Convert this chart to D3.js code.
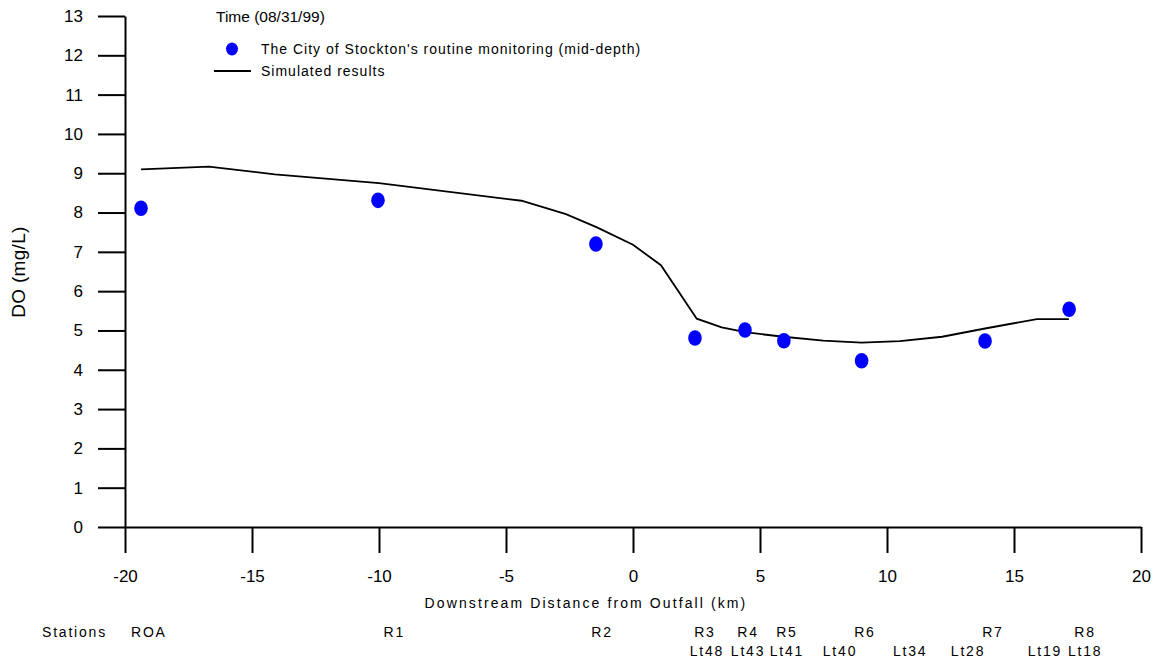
<!DOCTYPE html>
<html>
<head>
<meta charset="utf-8">
<script src="https://cdn.jsdelivr.net/npm/d3@7"></script>
<style>
  body { margin: 0; background: #fff; }
  svg { display: block; font-family: "Liberation Sans", Arial, sans-serif; }
</style>
</head>
<body>
<svg id="chart" width="1159" height="661"></svg>
<script>
// 观测数据（Stockton 例行监测，mid-depth）
const obsKm = [-19.37, -10.04, -1.46, 2.44, 4.41, 5.94, 9.0, 13.86, 17.17];
const obsDO = [8.11, 8.31, 7.2, 4.81, 5.01, 4.74, 4.23, 4.73, 5.54];

// 模拟结果
const simKm = [-19.37, -16.7, -14.1, -10.0, -4.39, -2.64, -1.44, 0.0, 1.1, 2.51, 3.49, 4.48, 5.92, 7.49, 9.0, 10.51, 12.17, 13.86, 15.9, 17.16];
const simDO = [9.1, 9.17, 8.97, 8.75, 8.3, 7.96, 7.63, 7.18, 6.66, 5.3, 5.08, 4.95, 4.84, 4.74, 4.69, 4.73, 4.84, 5.05, 5.29, 5.29];

// 坐标轴刻度
const xTicks = [-20, -15, -10, -5, 0, 5, 10, 15, 20];
const yTicks = [0, 1, 2, 3, 4, 5, 6, 7, 8, 9, 10, 11, 12, 13];

// 站点标签（第一行 R 站，第二行 Lt 站）
const rStations = ["ROA", "R1", "R2", "R3", "R4", "R5", "R6", "R7", "R8"];
const rStationKm = [-19.06, -9.4, -1.22, 2.83, 4.53, 6.06, 9.13, 14.17, 17.8];
const ltStations = ["Lt48", "Lt43", "Lt41", "Lt40", "Lt34", "Lt28", "Lt19", "Lt18"];
const ltStationKm = [2.91, 4.53, 6.06, 8.15, 10.91, 13.19, 16.22, 17.8];

const svg = d3.select("#chart");

const x = d3.scaleLinear().domain([-20, 20]).range([125, 1141]);
const y = d3.scaleLinear().domain([0, 13]).range([527, 16]);

// 刻度标签用普通连字符作负号
const plainFormat = d => String(d);

// Y 轴
const yAxis = svg.append("g")
    .attr("transform", "translate(125,0)")
    .call(d3.axisLeft(y).tickValues(yTicks).tickFormat(plainFormat)
        .tickSize(27).tickSizeOuter(0).tickPadding(15));

// X 轴
const xAxis = svg.append("g")
    .attr("transform", "translate(0,527)")
    .call(d3.axisBottom(x).tickValues(xTicks).tickFormat(plainFormat)
        .tickSize(26).tickSizeOuter(0).tickPadding(17));

[yAxis, xAxis].forEach(g => {
    g.select(".domain").attr("stroke", "#000").attr("stroke-width", 2);
    g.selectAll(".tick line").attr("stroke", "#000").attr("stroke-width", 2);
    g.selectAll(".tick text")
        .attr("fill", "#000")
        .attr("font-size", 17);
});

// 轴标题
svg.append("text")
    .attr("transform", "translate(25,272) rotate(-90)")
    .attr("text-anchor", "middle")
    .attr("font-size", 19)
    .attr("letter-spacing", 0.3)
    .text("DO (mg/L)");

svg.append("text")
    .attr("x", 586)
    .attr("y", 608)
    .attr("text-anchor", "middle")
    .attr("font-size", 14)
    .attr("letter-spacing", 2.1)
    .text("Downstream Distance from Outfall (km)");

// 站点
svg.append("text")
    .attr("x", 42)
    .attr("y", 637)
    .attr("font-size", 14)
    .attr("letter-spacing", 1.8)
    .text("Stations");

svg.selectAll(".r-station")
    .data(rStations)
    .enter().append("text")
    .attr("class", "r-station")
    .attr("x", (d, i) => x(rStationKm[i]))
    .attr("y", 637)
    .attr("text-anchor", "middle")
    .attr("font-size", 14)
    .attr("letter-spacing", 1.8)
    .text(d => d);

svg.selectAll(".lt-station")
    .data(ltStations)
    .enter().append("text")
    .attr("class", "lt-station")
    .attr("x", (d, i) => x(ltStationKm[i]))
    .attr("y", 656)
    .attr("text-anchor", "middle")
    .attr("font-size", 14)
    .attr("letter-spacing", 1.8)
    .text(d => d);

// 模拟曲线
const line = d3.line()
    .x(d => x(d[0]))
    .y(d => y(d[1]));

svg.append("path")
    .datum(simKm.map((k, i) => [k, simDO[i]]))
    .attr("fill", "none")
    .attr("stroke", "#000")
    .attr("stroke-width", 1.8)
    .attr("d", line);

// 观测点
svg.selectAll(".obs")
    .data(obsKm.map((k, i) => [k, obsDO[i]]))
    .enter().append("ellipse")
    .attr("class", "obs")
    .attr("cx", d => x(d[0]))
    .attr("cy", d => y(d[1]))
    .attr("rx", 6.8)
    .attr("ry", 7.8)
    .attr("fill", "#0000ff");

// 图例
svg.append("text")
    .attr("x", 216)
    .attr("y", 22)
    .attr("font-size", 15.5)
    .text("Time (08/31/99)");

svg.append("ellipse")
    .attr("cx", 232)
    .attr("cy", 49)
    .attr("rx", 6)
    .attr("ry", 6.5)
    .attr("fill", "#0000ff");

svg.append("text")
    .attr("x", 261)
    .attr("y", 54)
    .attr("font-size", 14)
    .attr("letter-spacing", 1.0)
    .text("The City of Stockton's routine monitoring (mid-depth)");

svg.append("line")
    .attr("x1", 214).attr("x2", 251)
    .attr("y1", 71).attr("y2", 71)
    .attr("stroke", "#000")
    .attr("stroke-width", 2);

svg.append("text")
    .attr("x", 261)
    .attr("y", 76)
    .attr("font-size", 14)
    .attr("letter-spacing", 1.0)
    .text("Simulated results");
</script>
</body>
</html>
